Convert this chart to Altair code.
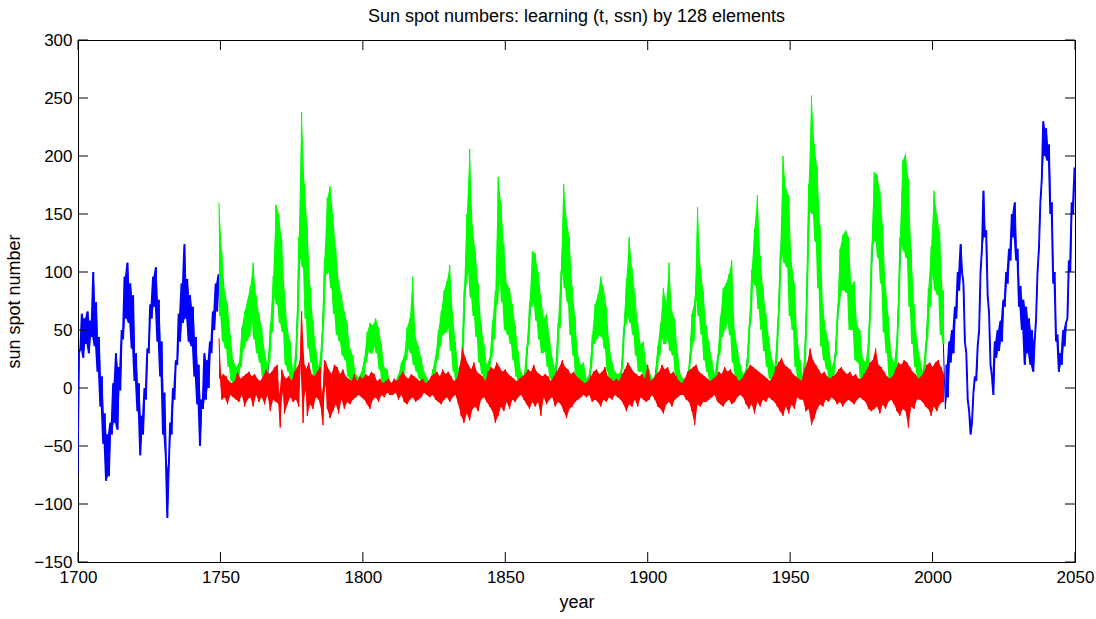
import altair as alt
import pandas as pd

# ---------------- data ----------------
# green: observed sunspot numbers, 0.5-year steps starting 1749.5
GREEN_START = 1749.5
green_vals = [
    160,
    62, 118, 40, 84, 34, 72, 18, 46, 6, 24, 3, 18, 4, 22, 18, 52, 34, 66, 40, 76,
    44, 88, 58, 108, 42, 80, 30, 64, 22, 52, 10, 32, 4, 20, 22, 56, 48, 96, 78, 158,
    72, 150, 56, 128, 48, 84, 20, 52, 14, 40, 3, 14, 10, 36, 62, 130, 112, 238, 104, 176,
    60, 140, 34, 88, 22, 58, 10, 34, 5, 18, 12, 40, 58, 112, 98, 164, 100, 174, 86, 150,
    64, 120, 46, 92, 40, 80, 28, 66, 24, 56, 10, 34, 6, 28, 1, 12, 0, 9, 2, 14,
    6, 26, 22, 48, 32, 56, 30, 54, 36, 60, 30, 52, 16, 38, 4, 18, 2, 16, 0, 6,
    0, 3, 0, 6, 1, 12, 5, 22, 8, 28, 24, 52, 34, 60, 30, 96, 20, 44, 14, 36,
    8, 26, 2, 14, 0, 9, 0, 5, 2, 16, 8, 28, 24, 50, 36, 66, 46, 84, 48, 92,
    52, 106, 32, 66, 14, 40, 2, 16, 4, 24, 34, 84, 90, 150, 100, 206, 78, 140, 62, 118,
    44, 90, 22, 56, 12, 38, 4, 20, 6, 26, 26, 58, 42, 84, 72, 182, 96, 160, 74, 124,
    50, 90, 46, 86, 38, 72, 24, 54, 10, 32, 2, 14, 0, 10, 10, 36, 38, 74, 70, 118,
    74, 116, 58, 100, 42, 80, 30, 60, 32, 64, 18, 44, 8, 26, 2, 16, 22, 56, 52, 100,
    104, 176, 86, 146, 74, 130, 46, 88, 28, 62, 8, 28, 4, 20, 4, 22, 0, 8, 1, 12,
    18, 46, 38, 72, 42, 80, 46, 96, 44, 86, 34, 70, 14, 38, 4, 22, 1, 14, 0, 12,
    1, 14, 20, 52, 54, 94, 62, 130, 56, 104, 46, 82, 28, 56, 14, 38, 14, 40, 4, 20,
    2, 16, 0, 8, 0, 10, 12, 36, 28, 56, 44, 86, 38, 74, 44, 108, 32, 66, 28, 60,
    8, 30, 1, 12, 0, 8, 0, 4, 2, 20, 30, 64, 40, 76, 82, 156, 62, 104, 46, 84,
    24, 54, 14, 40, 6, 24, 1, 12, 6, 28, 28, 62, 44, 86, 50, 90, 58, 98, 46, 110,
    22, 50, 10, 34, 4, 20, 1, 12, 2, 16, 22, 52, 60, 102, 92, 138, 88, 166, 68, 114,
    50, 86, 32, 64, 18, 44, 8, 26, 3, 18, 20, 50, 70, 118, 120, 200, 108, 172, 104, 166,
    62, 108, 50, 90, 18, 44, 6, 24, 0, 10, 20, 56, 108, 176, 152, 252, 150, 210, 126, 190,
    86, 140, 36, 72, 24, 50, 16, 40, 4, 18, 8, 24, 30, 64, 72, 120, 84, 132, 84, 136,
    82, 130, 50, 88, 50, 92, 24, 54, 22, 50, 6, 26, 4, 22, 14, 42, 70, 118, 130, 186,
    126, 184, 112, 170, 90, 140, 48, 88, 30, 62, 8, 28, 4, 22, 16, 44, 72, 130, 130, 196,
    118, 202, 112, 180, 70, 120, 38, 72, 18, 42, 8, 26, 2, 14, 10, 36, 44, 86, 70, 122,
    98, 170, 84, 150, 80, 134, 46, 84, 38,
]

# blue: model output before the data (0.5-year steps from 1700)
BLUE_PRE_START = 1700.0
blue_pre = [
    -74, 30, 34, 64, 26, 60, 38, 66, 30, 58, 44, 100, 36, 74, 14, 44, -16, 10, -48, -22,
    -80, -40, -76, -30, -40, 4, -30, 30, -36, 18, -2, 50, 42, 96, 60, 108, 56, 90, 34, 80,
    6, 30, -20, 4, -58, -24, -40, 0, -10, 34, 30, 72, 60, 96, 70, 104, 40, 76, 10, 40,
    -40, -4, -60, -112, -70, -30, -40, 0, -10, 24, 20, 64, 40, 90, 56, 124, 60, 94, 40, 80,
    36, 70, 10, 44, -14, 20, -50, -10, -18, 30, -10, 24, 0, 40, 30, 66, 50, 90, 66, 98,
]
# blue: model output over the data period (1-year steps from 1750.5)
BLUE_FIT_START = 1750.5
blue_fit = [
    90, 52, 44, 28, 8, 2, 14, 36, 50, 58,
    66, 92, 58, 40, 38, 16, 6, 42, 74, 112,
    96, 84, 62, 30, 26, 4, 24, 96, 160, 120,
    80, 64, 34, 18, 6, 28, 88, 128, 136, 112,
    92, 62, 64, 44, 38, 18, 12, 2, 0, 8,
    18, 36, 42, 46, 50, 40, 24, 6, 4, -2,
    -4, 2, 8, 16, 18, 38, 44, 42, 28, 20,
    12, 2, 0, -2, 10, 20, 40, 52, 68, 64,
    76, 44, 24, 4, 16, 60, 126, 134, 98, 80,
    60, 32, 20, 6, 18, 44, 66, 104, 120, 92,
    62, 60, 50, 36, 16, 2, 0, 26, 58, 98,
    100, 72, 56, 40, 50, 28, 12, 4, 42, 80,
    150, 106, 98, 60, 40, 14, 8, 16, 0, 2,
    36, 58, 62, 70, 60, 48, 20, 8, 2, 4,
    4, 40, 78, 90, 74, 60, 36, 22, 30, 8,
    4, -2, 8, 28, 46, 68, 50, 66, 44, 40,
    14, 2, 0, -4, 12, 52, 60, 110, 76, 60,
    34, 22, 10, 2, 20, 48, 68, 66, 82, 60,
    32, 18, 8, 2, 12, 40, 84, 118, 104, 84,
    64, 44, 26, 12, 6, 38, 98, 160, 130, 140,
    80, 64, 28, 10, 0, 42, 146, 196, 178, 152,
    108, 50, 34, 24, 6, 18, 52, 98, 100, 110,
    100, 62, 72, 34, 30, 12, 8, 32, 98, 160,
    150, 136, 110, 62, 42, 14, 10, 34, 106, 150,
    138, 150, 90, 50, 26, 14, 6, 26, 70, 98,
    124, 106, 100, 60,
]
# blue: forecast after the data (0.5-year steps from 2004.5)
BLUE_POST_START = 2004.5
blue_post = [
    -18, 20, -8, 40, 22, 50, 30, 70, 60, 100, 84, 124, 100, 90, 40, 30, -10, -20, -40, -30,
    -4, 10, 6, 36, 50, 100, 120, 170, 130, 136, 80, 64, 20, 10, -6, 40, 26, 50, 32, 58,
    40, 76, 70, 100, 90, 120, 110, 150, 130, 160, 110, 120, 70, 88, 50, 76, 20, 70, 30, 60,
    20, 50, 14, 40, 60, 100, 120, 160, 180, 230, 200, 224, 196, 210, 150, 160, 90, 100, 40, 46,
    14, 30, 20, 50, 36, 56, 60, 110, 100, 160, 150, 190,
]

# red: learning error, 0.5-year steps starting 1749.5
RED_START = 1749.5
red_vals = [
    43,
    8, -10, 12, -8, 10, -14, 6, -6, 4, -8, 6, -10, 14, -12, 8, -6, 10, -16, 12, -10,
    14, -8, 10, -16, 12, -6, 8, -12, 6, -8, 10, -14, 16, -6, 12, -20, 14, -10, 18, -12,
    20, -14, -34, 16, 12, -22, 8, -14, 10, -8, 6, -12, 14, -10, 18, -16, 24, 66, -30, 20,
    16, -24, 22, -14, 12, -18, 10, -8, 14, -10, 18, -20, -32, 24, 22, -18, 16, -26, 12, -20,
    20, -14, 18, -22, 12, -10, 16, -18, 10, -12, 8, -14, 6, -10, 12, -8, 6, -6, 10, -8,
    8, -10, 12, -14, 10, -18, 14, -10, 12, -8, 6, -12, 8, -6, 4, -8, 6, -4, 8, -6,
    4, -6, 8, -4, 6, -10, 10, -6, 14, -12, 10, -14, 8, -10, 12, -8, 10, -12, 8, -10,
    6, -8, 8, -4, 4, -6, 6, -8, 10, -6, 12, -10, 14, -12, 10, -14, 16, -10, 12, -8,
    14, -12, 10, -8, 6, -6, 8, -14, 18, -24, 34, -30, 26, -22, 20, -28, 16, -18, 22, -16,
    14, -20, 12, -10, 10, -8, 6, -12, 14, -16, 18, -20, 16, -30, 22, -24, 18, -16, 14, -20,
    16, -12, 12, -18, 10, -10, 8, -12, 6, -8, 8, -6, 10, -10, 12, -14, 16, -18, 14, -12,
    20, -16, 14, -12, 12, -24, 10, -8, 12, -14, 10, -10, 6, -8, 10, -16, 14, -12, 18, -14,
    24, -20, 18, -26, 16, -18, 12, -16, 14, -12, 10, -10, 8, -8, 6, -6, 4, -8, 6, -6,
    10, -12, 14, -10, 16, -12, 12, -16, 14, -10, 18, -12, 10, -8, 8, -10, 6, -6, 8, -8,
    6, -10, 12, -14, 16, -20, 22, -14, 18, -16, 14, -10, 12, -16, 10, -8, 12, -10, 8, -12,
    20, -10, 6, -6, 8, -10, 12, -16, 14, -18, 20, -22, 16, -14, 18, -12, 12, -16, 14, -10,
    10, -8, 6, -6, 4, -6, 8, -10, 14, -12, 16, -20, 18, -32, 20, -14, 14, -16, 12, -12,
    10, -12, 8, -10, 6, -8, 8, -6, 10, -12, 14, -14, 12, -16, 18, -12, 14, -10, 16, -14,
    12, -12, 10, -8, 6, -6, 8, -8, 12, -14, 16, -18, 20, -14, 18, -22, 16, -12, 14, -16,
    12, -10, 10, -12, 8, -8, 6, -10, 10, -12, 18, -16, 22, -20, 26, -24, 20, -16, 18, -22,
    16, -14, 12, -18, 10, -8, 8, -10, 6, -10, 16, -20, 22, -18, 34, -32, 24, -26, 20, -18,
    16, -14, 12, -16, 14, -10, 10, -12, 8, -8, 10, -10, 12, -14, 16, -12, 18, -16, 14, -12,
    12, -10, 14, -12, 10, -14, 12, -10, 8, -8, 8, -10, 12, -12, 16, -18, 22, -20, 24, -18,
    34, -16, 20, -22, 18, -14, 14, -18, 10, -12, 8, -10, 10, -14, 16, -20, 22, -24, 20, -18,
    24, -20, 22, -34, 18, -16, 14, -18, 12, -10, 8, -10, 10, -12, 14, -16, 20, -18, 22, -24,
    18, -16, 22, -20, 24, -14, 18, -12, 12,
]

x_ticks = [1700, 1750, 1800, 1850, 1900, 1950, 2000, 2050]
y_ticks = [-150, -100, -50, 0, 50, 100, 150, 200, 250, 300]

# ---------------- tables ----------------
green_df = pd.DataFrame({"t": [GREEN_START + 0.5 * i for i in range(len(green_vals))],
                         "v": green_vals})
blue_t = ([BLUE_PRE_START + 0.5 * i for i in range(len(blue_pre))]
          + [BLUE_FIT_START + i for i in range(len(blue_fit))]
          + [BLUE_POST_START + 0.5 * i for i in range(len(blue_post))])
blue_df = pd.DataFrame({"t": blue_t, "v": blue_pre + blue_fit + blue_post})
red_df = pd.DataFrame({"t": [RED_START + 0.5 * i for i in range(len(red_vals))],
                       "v": red_vals})
xt_df = pd.DataFrame({"v": x_ticks})
yt_df = pd.DataFrame({"v": y_ticks})

W, H = 997, 522
FONT = "Liberation Sans"

xs = alt.Scale(domain=[1700, 2050], nice=False, zero=False)
ys = alt.Scale(domain=[-150, 300], nice=False, zero=False)

x_axis = alt.Axis(values=x_ticks, format="d", ticks=False, tickSize=0, grid=False,
                  labelFlush=False, labelOverlap=False, labelPadding=7,
                  labelFontSize=17, labelFont=FONT, labelColor="black",
                  titleFontSize=18, titleFont=FONT, titleFontWeight="normal",
                  titleColor="black", titlePadding=8, domainColor="black")
y_axis = alt.Axis(values=y_ticks, format="d", ticks=False, tickSize=0, grid=False,
                  labelFlush=False, labelOverlap=False, labelPadding=6,
                  labelFontSize=17, labelFont=FONT, labelColor="black",
                  titleFontSize=18, titleFont=FONT, titleFontWeight="normal",
                  titleColor="black", titlePadding=10, domainColor="black")


def line_layer(df, color, with_axes=False):
    if with_axes:
        x_enc = alt.X("t:Q", scale=xs, axis=x_axis, title="year")
        y_enc = alt.Y("v:Q", scale=ys, axis=y_axis, title="sun spot number")
    else:
        x_enc = alt.X("t:Q", scale=xs)
        y_enc = alt.Y("v:Q", scale=ys)
    return alt.Chart(df).mark_line(color=color, strokeWidth=1, clip=True).encode(
        x=x_enc, y=y_enc)


def pair_band(df, color, keep):
    """Fill between each sample and the next one (thickens a jagged line)."""
    return alt.Chart(df).transform_window(
        lo="min(v)", hi="max(v)", frame=[0, 1], sort=[alt.SortField("t")]
    ).transform_filter(keep).mark_area(color=color, opacity=1, clip=True).encode(
        x=alt.X("t:Q", scale=xs), y=alt.Y("lo:Q", scale=ys), y2="hi:Q")


def envelope_band(df, color, floor_from_neighbours=False):
    """Fill between the upper and lower envelope of a dense jagged signal."""
    lo_expr = ("min(datum.v, datum.nb, datum.wmin)" if floor_from_neighbours
               else "min(datum.v, datum.nb)")
    return alt.Chart(df).transform_window(
        s="sum(v)", c="count()", wmin="min(v)", frame=[-1, 1], sort=[alt.SortField("t")]
    ).transform_calculate(
        nb="(datum.s - datum.v) / max(datum.c - 1, 1)"
    ).transform_calculate(
        lo=lo_expr, hi="max(datum.v, datum.nb)"
    ).mark_area(color=color, opacity=1, clip=True).encode(
        x=alt.X("t:Q", scale=xs), y=alt.Y("lo:Q", scale=ys), y2="hi:Q")


TL = 10
tick_bottom = alt.Chart(xt_df).mark_rule(color="black", strokeWidth=1).encode(
    x=alt.X("v:Q", scale=xs), y=alt.value(H), y2=alt.value(H - TL))
tick_top = alt.Chart(xt_df).mark_rule(color="black", strokeWidth=1).encode(
    x=alt.X("v:Q", scale=xs), y=alt.value(0), y2=alt.value(TL))
tick_left = alt.Chart(yt_df).mark_rule(color="black", strokeWidth=1).encode(
    y=alt.Y("v:Q", scale=ys), x=alt.value(0), x2=alt.value(TL))
tick_right = alt.Chart(yt_df).mark_rule(color="black", strokeWidth=1).encode(
    y=alt.Y("v:Q", scale=ys), x=alt.value(W), x2=alt.value(W - TL))

layers = [
    line_layer(blue_df, "#0000ff", with_axes=True),
    pair_band(blue_df, "#0000ff", "datum.t < 1750"),
    pair_band(blue_df, "#0000ff", "datum.t > 2004"),
    envelope_band(green_df, "#00ff00", floor_from_neighbours=True),
    line_layer(green_df, "#00ff00"),
    envelope_band(red_df, "#ff0000"), line_layer(red_df, "#ff0000"),
    tick_bottom, tick_top, tick_left, tick_right,
]

chart = alt.layer(*layers).properties(
    width=W, height=H,
    title=alt.TitleParams("Sun spot numbers: learning (t, ssn) by 128 elements",
                          font=FONT, fontSize=18, fontWeight="normal", color="black",
                          anchor="middle", offset=5),
    autosize=alt.AutoSizeParams(type="none"),
    padding={"left": 78, "top": 40, "right": 21, "bottom": 57},
    background="white",
).configure_view(stroke="black", strokeWidth=1)

chart.save("out.html", embed_options={"renderer": "svg", "actions": False})
